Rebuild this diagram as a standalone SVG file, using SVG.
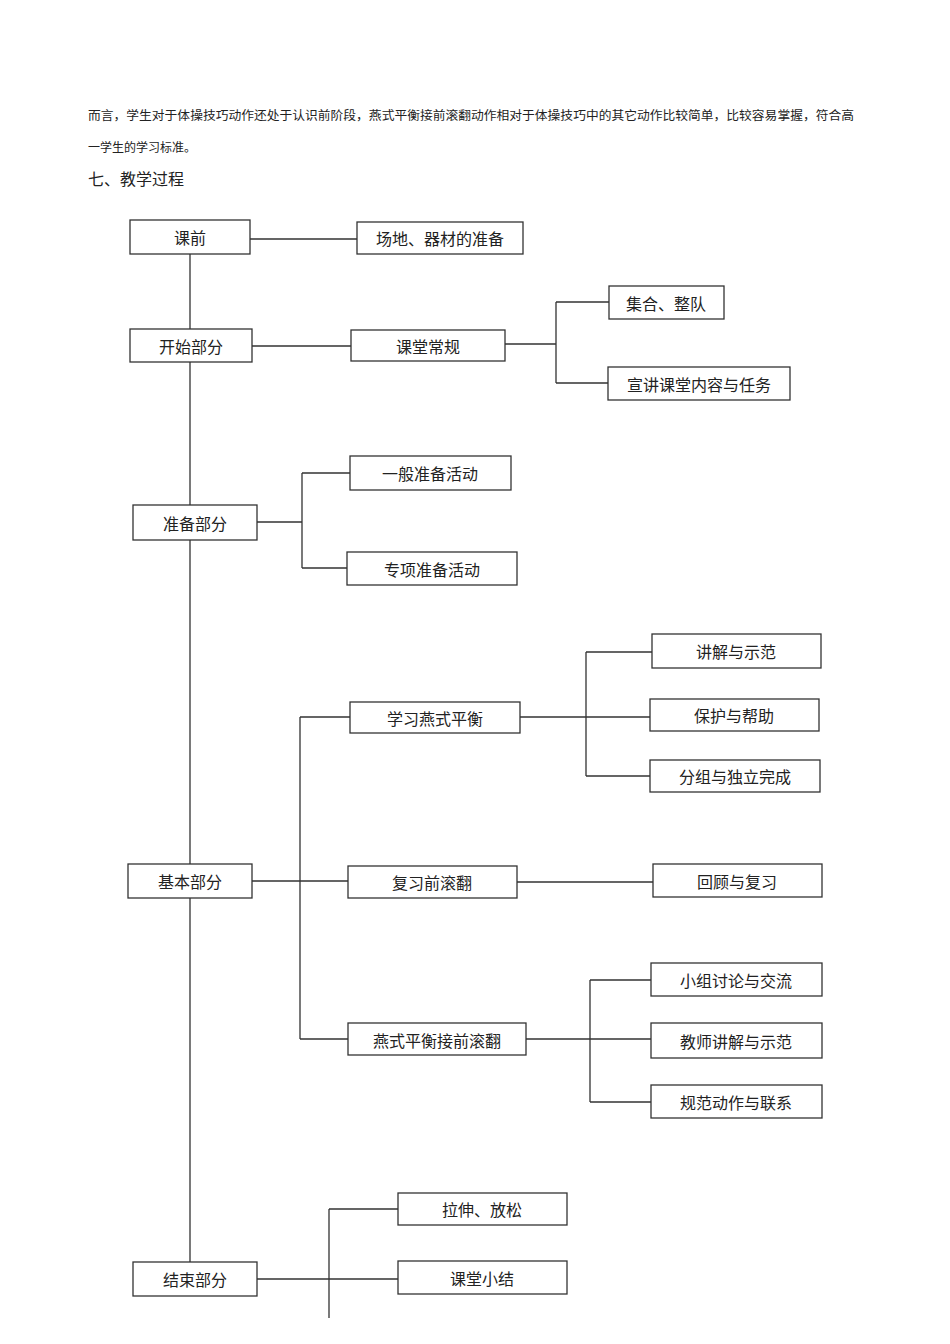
<svg xmlns="http://www.w3.org/2000/svg" width="950" height="1344" viewBox="0 0 950 1344">
<style>
text{font-family:"Noto Sans CJK SC","Liberation Serif",serif;fill:#222}
.b rect{fill:#fff;stroke:#333;stroke-width:1.3}
.b text{font-size:16px;text-anchor:middle;dominant-baseline:central}
.c{stroke:#333;stroke-width:1.3;fill:none}
</style>
<rect width="950" height="1344" fill="#fff"/>
<text x="88" y="120" font-size="12" textLength="766" lengthAdjust="spacingAndGlyphs">而言，学生对于体操技巧动作还处于认识前阶段，燕式平衡接前滚翻动作相对于体操技巧中的其它动作比较简单，比较容易掌握，符合高</text>
<text x="88" y="152" font-size="12">一学生的学习标准。</text>
<text x="88" y="185" font-size="16">七、教学过程</text>
<g class="c">
<path d="M250 239H357M190 254V1262M252 346H351M505 344H556M556 302V383M556 302H609M556 383H608M257 522H302M302 473V568M302 473H350M302 568H347M252 881H300M300 717V1039M300 717H350M300 881H348M300 1039H348M520 717H586M586 652V776M586 652H652M586 717H650M586 776H650M517 882H653M526 1039H590M590 980V1102M590 980H651M590 1039H651M590 1102H651M257 1279H398M329 1209V1318M329 1209H398"/>
</g>
<g id="n1" class="b"><rect x="130" y="220" width="120" height="34"/><text x="190" y="237">课前</text></g>
<g id="n2" class="b"><rect x="357" y="222" width="166" height="32"/><text x="440" y="238">场地、器材的准备</text></g>
<g id="n3" class="b"><rect x="130" y="329" width="122" height="33"/><text x="191" y="346">开始部分</text></g>
<g id="n4" class="b"><rect x="351" y="330" width="154" height="31"/><text x="428" y="346">课堂常规</text></g>
<g id="n5" class="b"><rect x="609" y="286" width="115" height="33"/><text x="666" y="303">集合、整队</text></g>
<g id="n6" class="b"><rect x="608" y="367" width="182" height="33"/><text x="699" y="384">宣讲课堂内容与任务</text></g>
<g id="n7" class="b"><rect x="133" y="505" width="124" height="35"/><text x="195" y="523">准备部分</text></g>
<g id="n8" class="b"><rect x="350" y="456" width="161" height="34"/><text x="430" y="473">一般准备活动</text></g>
<g id="n9" class="b"><rect x="347" y="552" width="170" height="33"/><text x="432" y="569">专项准备活动</text></g>
<g id="n10" class="b"><rect x="652" y="634" width="169" height="34"/><text x="736" y="651">讲解与示范</text></g>
<g id="n11" class="b"><rect x="350" y="702" width="170" height="31"/><text x="435" y="718">学习燕式平衡</text></g>
<g id="n12" class="b"><rect x="650" y="699" width="169" height="32"/><text x="734" y="715">保护与帮助</text></g>
<g id="n13" class="b"><rect x="650" y="760" width="170" height="32"/><text x="735" y="776">分组与独立完成</text></g>
<g id="n14" class="b"><rect x="128" y="864" width="124" height="34"/><text x="190" y="881">基本部分</text></g>
<g id="n15" class="b"><rect x="348" y="866" width="169" height="32"/><text x="432" y="882">复习前滚翻</text></g>
<g id="n16" class="b"><rect x="653" y="864" width="169" height="33"/><text x="737" y="881">回顾与复习</text></g>
<g id="n17" class="b"><rect x="651" y="963" width="171" height="33"/><text x="736" y="980">小组讨论与交流</text></g>
<g id="n18" class="b"><rect x="348" y="1023" width="178" height="32"/><text x="437" y="1040">燕式平衡接前滚翻</text></g>
<g id="n19" class="b"><rect x="651" y="1023" width="171" height="35"/><text x="736" y="1041">教师讲解与示范</text></g>
<g id="n20" class="b"><rect x="651" y="1085" width="171" height="33"/><text x="736" y="1102">规范动作与联系</text></g>
<g id="n21" class="b"><rect x="133" y="1262" width="124" height="34"/><text x="195" y="1279">结束部分</text></g>
<g id="n22" class="b"><rect x="398" y="1193" width="169" height="32"/><text x="482" y="1209">拉伸、放松</text></g>
<g id="n23" class="b"><rect x="398" y="1261" width="169" height="33"/><text x="482" y="1278">课堂小结</text></g>
</svg>
